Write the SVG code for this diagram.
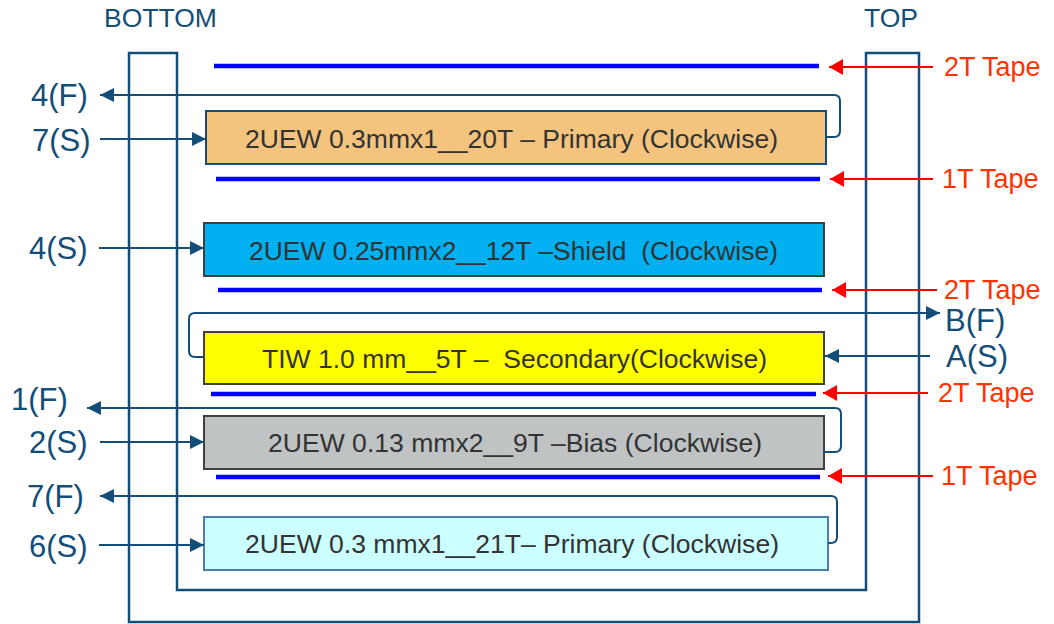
<svg xmlns="http://www.w3.org/2000/svg" width="1054" height="624" viewBox="0 0 1054 624">
<defs>
<style>
text{font-family:"Liberation Sans",Arial,sans-serif}
.lbl{font-size:31px;fill:#124e78}
.hdr{font-size:26.5px;fill:#124e78}
.tape-lbl{font-size:27px;fill:#ff3300}
.box-txt{font-size:25px;fill:#333333;text-anchor:start}
.tape{stroke:#0000ff;stroke-width:4.5;fill:none}
.conn{stroke:#124e78;stroke-width:2;fill:none}
.red{stroke:#ff0000;stroke-width:2;fill:none}
.bobbin{stroke:#124e78;stroke-width:2.5;fill:none}
</style>
<marker id="ab" markerUnits="userSpaceOnUse" markerWidth="16" markerHeight="14" refX="14" refY="7" orient="auto"><path d="M0,0 L14,7 L0,14 z" fill="#124e78"/></marker>
<marker id="ar" markerUnits="userSpaceOnUse" markerWidth="16" markerHeight="16" refX="14" refY="8" orient="auto"><path d="M0,0 L14,8 L0,16 z" fill="#ff0000"/></marker>
</defs>
<rect width="1054" height="624" fill="#ffffff"/>

<g id="bobbin">
<path class="bobbin" d="M129,53 L177,53 L177,590 L866,590 L866,53 L919,53 L919,622 L129,622 Z"/>
<text class="hdr" x="104" y="27">BOTTOM</text>
<text class="hdr" x="864" y="27">TOP</text>
</g>

<g id="tapes">
<line class="tape" x1="214" y1="66" x2="819" y2="66"/>
<line class="tape" x1="216" y1="179" x2="820" y2="179"/>
<line class="tape" x1="218" y1="290" x2="822" y2="290"/>
<line class="tape" x1="211" y1="394" x2="816" y2="394"/>
<line class="tape" x1="216" y1="477" x2="820" y2="477"/>
</g>

<g id="winding-primary1">
<rect x="206" y="111" width="620" height="53" fill="#f4c47f" stroke="#124e78" stroke-width="2"/>
<text class="box-txt" x="245" y="148" textLength="533" lengthAdjust="spacingAndGlyphs">2UEW 0.3mmx1__20T – Primary (Clockwise)</text>
</g>
<g id="winding-shield">
<rect x="204" y="223" width="620" height="53" fill="#00b0f0" stroke="#404040" stroke-width="2"/>
<text class="box-txt" x="249" y="260" textLength="529" lengthAdjust="spacingAndGlyphs" xml:space="preserve">2UEW 0.25mmx2__12T –Shield  (Clockwise)</text>
</g>
<g id="winding-secondary">
<rect x="204" y="332" width="620" height="52" fill="#ffff00" stroke="#404040" stroke-width="2"/>
<text class="box-txt" x="262" y="368" textLength="505" lengthAdjust="spacingAndGlyphs" xml:space="preserve">TIW 1.0 mm__5T –  Secondary(Clockwise)</text>
</g>
<g id="winding-bias">
<rect x="204" y="416" width="620" height="53" fill="#bfc3c4" stroke="#404040" stroke-width="2"/>
<text class="box-txt" x="268" y="452" textLength="494" lengthAdjust="spacingAndGlyphs">2UEW 0.13 mmx2__9T –Bias (Clockwise)</text>
</g>
<g id="winding-primary2">
<rect x="204" y="517" width="624" height="53" fill="#ccffff" stroke="#4a80ad" stroke-width="2"/>
<text class="box-txt" x="245" y="553" textLength="534" lengthAdjust="spacingAndGlyphs">2UEW 0.3 mmx1__21T– Primary (Clockwise)</text>
</g>

<g id="connectors">
<path class="conn" d="M826,137 L834,137 Q840,137 840,131 L840,101 Q840,95 834,95 L100,95" marker-end="url(#ab)"/>
<path class="conn" d="M100,139 L206,139" marker-end="url(#ab)"/>
<path class="conn" d="M99,248 L204,248" marker-end="url(#ab)"/>
<path class="conn" d="M204,357 L195,357 Q189,357 189,351 L189,319 Q189,313 195,313 L940,313" marker-end="url(#ab)"/>
<path class="conn" d="M930,356 L825,356" marker-end="url(#ab)"/>
<path class="conn" d="M824,452 L835,452 Q841,452 841,446 L841,414 Q841,408 835,408 L87,408" marker-end="url(#ab)"/>
<path class="conn" d="M100,442 L204,442" marker-end="url(#ab)"/>
<path class="conn" d="M828,543 L831,543 Q837,543 837,537 L837,502 Q837,496 831,496 L100,496" marker-end="url(#ab)"/>
<path class="conn" d="M99,545 L204,545" marker-end="url(#ab)"/>
<path class="red" d="M933,67 L829,67" marker-end="url(#ar)"/>
<path class="red" d="M933,179 L830,179" marker-end="url(#ar)"/>
<path class="red" d="M937,290 L832,290" marker-end="url(#ar)"/>
<path class="red" d="M928,393 L823,393" marker-end="url(#ar)"/>
<path class="red" d="M933,476 L828,476" marker-end="url(#ar)"/>
</g>

<g id="labels">
<text class="lbl" x="31" y="106">4(F)</text>
<text class="lbl" x="32" y="151">7(S)</text>
<text class="lbl" x="29" y="259">4(S)</text>
<text class="lbl" x="945" y="331">B(F)</text>
<text class="lbl" x="946" y="367">A(S)</text>
<text class="lbl" x="11" y="410">1(F)</text>
<text class="lbl" x="29" y="453">2(S)</text>
<text class="lbl" x="27" y="507">7(F)</text>
<text class="lbl" x="29" y="557">6(S)</text>
<text class="tape-lbl" x="944" y="76">2T Tape</text>
<text class="tape-lbl" x="942" y="188">1T Tape</text>
<text class="tape-lbl" x="944" y="299">2T Tape</text>
<text class="tape-lbl" x="938" y="402">2T Tape</text>
<text class="tape-lbl" x="941" y="485">1T Tape</text>
</g>
</svg>
